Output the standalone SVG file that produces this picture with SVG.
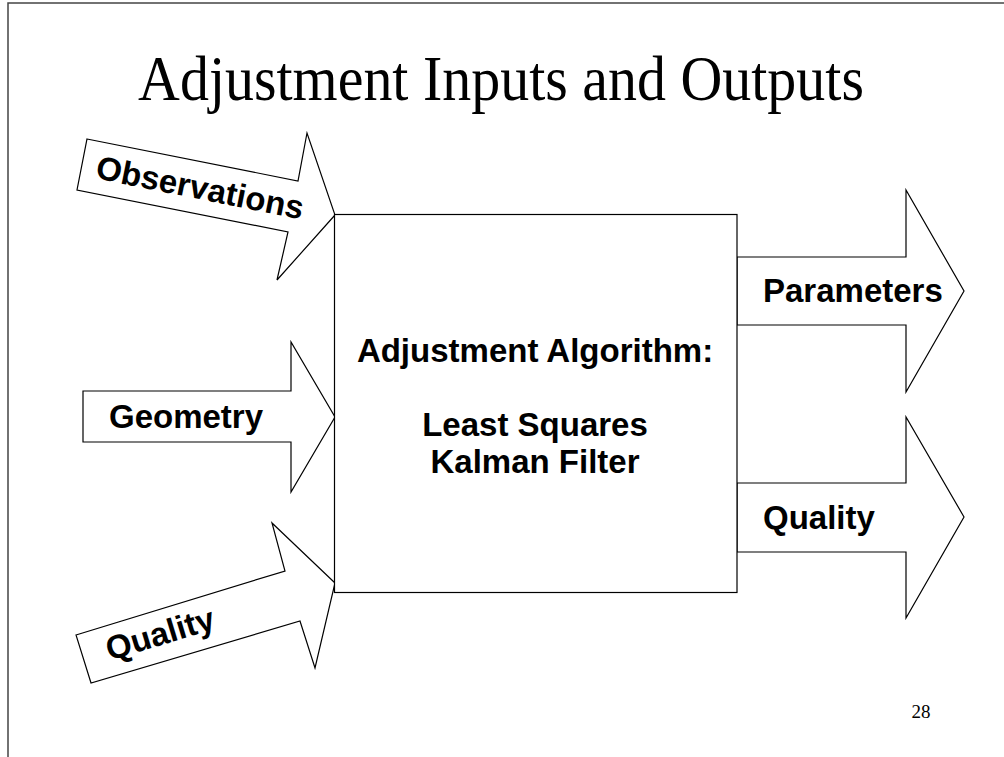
<svg xmlns="http://www.w3.org/2000/svg" width="1004" height="757" viewBox="0 0 1004 757">
<style>
.shape{fill:#fff;stroke:#000;stroke-width:1.2;stroke-linejoin:miter}
.lbl{font-family:"Liberation Sans",Arial,sans-serif;font-weight:bold;font-size:33px;fill:#000}
.title{font-family:"Liberation Serif","Times New Roman",serif;font-size:63px;fill:#000}
.pg{font-family:"Liberation Serif","Times New Roman",serif;font-size:19px;fill:#000}
</style>
<rect width="1004" height="757" fill="#fff"/>
<path d="M8,757 V3 H1004" fill="none" stroke="#444" stroke-width="1.5"/>
<text class="title" x="0" y="0" text-anchor="middle" transform="translate(501,100) scale(0.92,1)">Adjustment Inputs and Outputs</text>
<g id="connectors">
<g id="arrow-observations">
<polygon class="shape" points="87,139 298,181 307,133 335,215 277,280 288,232 77,190"/>
<text class="lbl" x="200" y="199" text-anchor="middle" transform="rotate(11.3 200 188)">Observations</text>
</g>
<g id="arrow-geometry">
<polygon class="shape" points="83,391 291,391 291,342 335,417 291,492 291,442 83,442"/>
<text class="lbl" x="186" y="428" text-anchor="middle">Geometry</text>
</g>
<g id="arrow-quality-in">
<polygon class="shape" points="76,635 285,571 272,523 335,583 315,668 300,621 91,683"/>
<text class="lbl" x="160" y="645" text-anchor="middle" transform="rotate(-16.8 160 634)">Quality</text>
</g>
<g id="arrow-parameters">
<polygon class="shape" points="737,257 906,257 906,190 964,291 906,392 906,325 737,325"/>
<text class="lbl" x="763" y="302">Parameters</text>
</g>
<g id="arrow-quality-out">
<polygon class="shape" points="737,483 906,483 906,417 964,517 906,618 906,552 737,552"/>
<text class="lbl" x="763" y="529">Quality</text>
</g>
</g>
<g id="node-algorithm">
<rect class="shape" x="334.5" y="214.5" width="402.5" height="378"/>
<text class="lbl" x="535" y="362" text-anchor="middle">Adjustment Algorithm:</text>
<text class="lbl" x="535" y="436" text-anchor="middle">Least Squares</text>
<text class="lbl" x="535" y="473" text-anchor="middle">Kalman Filter</text>
</g>
<text class="pg" x="921" y="718" text-anchor="middle">28</text>
</svg>
